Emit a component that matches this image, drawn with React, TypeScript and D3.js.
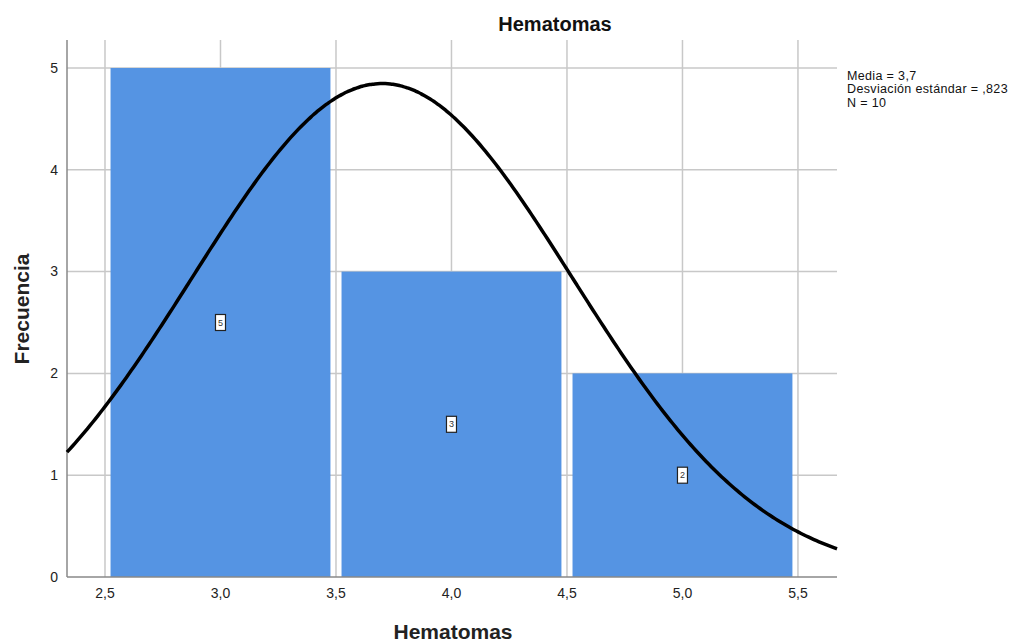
import React from "react";
import * as d3 from "d3";

const binCenters = [3, 4, 5];
const frequencies = [5, 3, 2];
const xTicks = [2.5, 3.0, 3.5, 4.0, 4.5, 5.0, 5.5];
const yTicks = [0, 1, 2, 3, 4, 5];
const mean = 3.7;
const sd = 0.823;
const n = 10;
const binWidth = 1;
const statsLines = ["Media = 3,7", "Desviación estándar = ,823", "N = 10"];

const W = 1028;
const H = 643;
const left = 67;
const right = 837;
const top = 40;
const bottom = 577;

export default function App() {
  const x = d3.scaleLinear().domain([2.3355, 5.669]).range([left, right]);
  const y = d3.scaleLinear().domain([0, 5.275]).range([bottom, top]);
  const fmt = (v: number) => v.toFixed(1).replace(".", ",");
  const inset = 0.024;

  const pts = d3.range(0, 301).map((i) => {
    const xv = 2.3355 + (i / 300) * (5.669 - 2.3355);
    const yv = (n * binWidth) / (sd * Math.sqrt(2 * Math.PI)) * Math.exp(-0.5 * ((xv - mean) / sd) ** 2);
    return [xv, yv] as [number, number];
  });
  const line = d3.line<[number, number]>().x((d) => x(d[0])).y((d) => y(d[1])).curve(d3.curveBasis);

  const font = "'Liberation Sans', Arial, sans-serif";

  return (
    <svg width={W} height={H} style={{ position: "absolute", left: 0, top: 0 }} fontFamily={font}>
      <rect width={W} height={H} fill="#fff" />
      {xTicks.map((t) => (
        <line key={"gx" + t} x1={x(t)} x2={x(t)} y1={top} y2={bottom} stroke="#c8c8c8" strokeWidth={1.5} />
      ))}
      {yTicks.filter((t) => t > 0).map((t) => (
        <line key={"gy" + t} x1={left} x2={right} y1={y(t)} y2={y(t)} stroke="#c8c8c8" strokeWidth={1.5} />
      ))}
      {binCenters.map((c, i) => (
        <rect
          key={"b" + i}
          x={x(c - binWidth / 2 + inset)}
          y={y(frequencies[i])}
          width={x(c + binWidth / 2 - inset) - x(c - binWidth / 2 + inset)}
          height={y(0) - y(frequencies[i])}
          fill="#5594e3"
        />
      ))}
      <line x1={left} x2={left} y1={top} y2={bottom} stroke="#888" strokeWidth={1.5} />
      <line x1={left} x2={right} y1={bottom} y2={bottom} stroke="#888" strokeWidth={1.5} />
      <path d={line(pts) || ""} fill="none" stroke="#000" strokeWidth={3.5} />
      {binCenters.map((c, i) => (
        <g key={"l" + i} transform={`translate(${x(c)},${y(frequencies[i] / 2)})`}>
          <rect x={-5} y={-8} width={10} height={16} fill="#fff" stroke="#222" strokeWidth={1.2} />
          <text textAnchor="middle" dy="0.35em" fontSize={9} fill="#333">{frequencies[i]}</text>
        </g>
      ))}
      {yTicks.map((t) => (
        <text key={"ty" + t} x={58} y={y(t)} dy="0.35em" textAnchor="end" fontSize={14} fill="#222">{t}</text>
      ))}
      {xTicks.map((t) => (
        <text key={"tx" + t} x={x(t)} y={598} textAnchor="middle" fontSize={14} fill="#222">{fmt(t)}</text>
      ))}
      <text x={555} y={31} textAnchor="middle" fontSize={20} fontWeight="bold" fill="#111">Hematomas</text>
      <text x={453} y={639} textAnchor="middle" fontSize={21} fontWeight="bold" fill="#222">Hematomas</text>
      <text transform="translate(29,309) rotate(-90)" textAnchor="middle" fontSize={21} fontWeight="bold" fill="#222">Frecuencia</text>
      {statsLines.map((s, i) => (
        <text key={"s" + i} x={847} y={79.5 + i * 13.5} fontSize={12.5} letterSpacing={0.35} fill="#111">{s}</text>
      ))}
    </svg>
  );
}
